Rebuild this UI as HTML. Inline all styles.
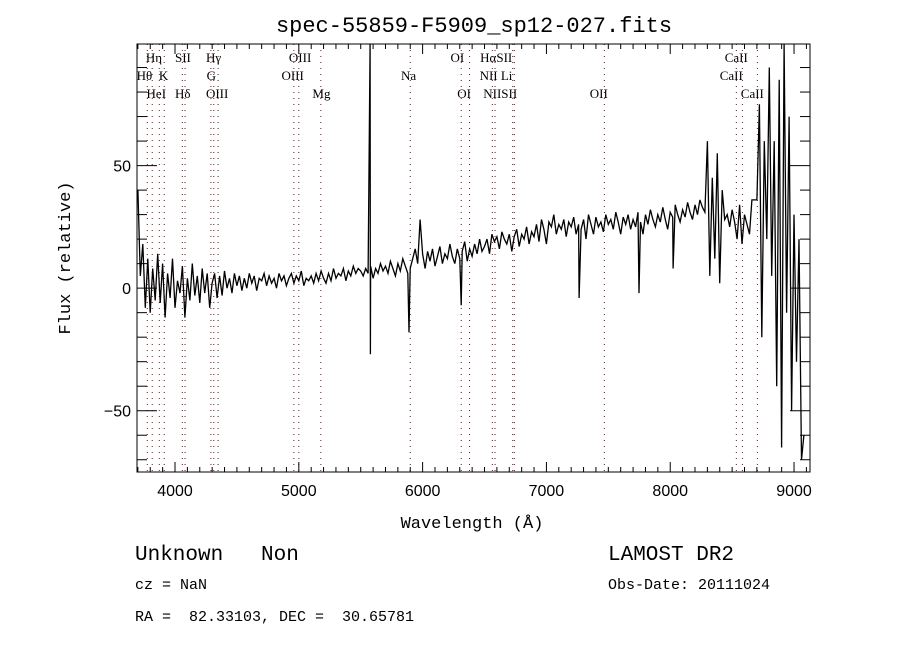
<!DOCTYPE html>
<html><head><meta charset="utf-8"><style>
body{margin:0;background:#fff;width:900px;height:650px;overflow:hidden}
svg{display:block}
</style></head><body>
<svg id="chart" width="900" height="650" xmlns="http://www.w3.org/2000/svg">
<rect width="900" height="650" fill="#fff"/>
<text x="474" y="32" text-anchor="middle" font-family="Liberation Mono, monospace" font-size="22">spec-55859-F5909_sp12-027.fits</text>
<g id="lines"></g>
<g id="series"></g>
<g id="axes"></g>
<text x="472" y="528" text-anchor="middle" font-family="Liberation Mono, monospace" font-size="17">Wavelength (Å)</text>
<text transform="translate(70,258) rotate(-90)" text-anchor="middle" font-family="Liberation Mono, monospace" font-size="17">Flux (relative)</text>
<text x="135" y="560" font-family="Liberation Mono, monospace" font-size="21" xml:space="preserve">Unknown   Non</text>
<text x="135" y="589" font-family="Liberation Mono, monospace" font-size="15">cz = NaN</text>
<text x="135" y="621" font-family="Liberation Mono, monospace" font-size="15" xml:space="preserve">RA =  82.33103, DEC =  30.65781</text>
<text x="608" y="560" font-family="Liberation Mono, monospace" font-size="21">LAMOST DR2</text>
<text x="608" y="589" font-family="Liberation Mono, monospace" font-size="15">Obs-Date: 20111024</text>
</svg>
<script>
// ---- data ----
const wlStart = 3700;
const wlStep = 20;
const flux = [
40,5,18,-8,12,-10,8,-5,14,-6,
10,-12,6,-4,12,-8,3,-2,9,-12,
4,-5,10,-3,5,-6,8,-2,6,-8,
2,6,-4,5,-3,7,0,4,-2,6,
1,5,-1,4,0,6,2,5,-1,4,
3,6,1,5,2,4,0,6,3,5,
1,4,6,2,5,3,7,1,4,3,
5,2,6,3,7,4,2,6,3,8,
4,6,5,8,3,7,5,9,6,8,
7,5,8,6,9,4,8,6,10,7,
9,6,11,8,5,10,7,12,9,6,
8,12,16,10,28,14,8,15,11,16,
9,13,17,10,14,12,18,13,10,16,
12,15,19,11,16,13,18,14,20,15,
17,20,14,22,19,21,16,23,20,18,
22,15,21,24,17,22,20,25,18,23,
21,26,19,28,24,18,27,25,30,22,
26,24,28,21,27,25,29,22,26,24,
28,20,30,26,22,29,25,27,23,30,
26,28,24,31,27,22,29,26,30,24,
28,25,31,27,22,30,26,32,28,25,
30,27,33,28,24,31,29,34,30,27,
32,29,35,31,28,34,30,36,33,31,
60,5,45,12,55,2,40,28,30,25,
32,27,20,34,18,30,26,22,36,36,
36,75,-20,60,20,90,5,60,-40,85,
-65,100,-10,70,-50,30,-30,20,-70,-60];
const featureWl = [5576,5578,5890,6312,7264,7748,8023];
const featureFlux = [100,-27,-18,-7,-4,-2,8];
const xTicks = [4000,5000,6000,7000,8000,9000];
const yTicks = [-50,0,50];
const lineWl = [3776,3816,3873,3913,4059,4081,4290,4313,4348,4960,5000,5178,5900,6312,6379,6563,6585,6728,6741,7468,8534,8583,8704];
const labelText = ["Hη","SII","Hγ","OIII","OI","HαSII","CaII","Hθ","K","G","OIII","Na","NII Li","CaII","HeI","Hδ","OIII","Mg","OI","NIISII","OII","CaII"];
const labelWl = [3765,4000,4250,4920,6225,6465,8440,3690,3870,4255,4860,5825,6460,8400,3770,4000,4250,5110,6280,6490,7350,8570];
const labelRow = [0,0,0,0,0,0,0,1,1,1,1,1,1,1,2,2,2,2,2,2,2,2];

// ---- scales ----
const X0=137,X1=810,Y0=44,Y1=472;
const wMin=3693,wMax=9129,fMin=-75,fMax=99.6;
const xs=w=>X0+(w-wMin)/(wMax-wMin)*(X1-X0);
const ys=f=>Y1-(f-fMin)/(fMax-fMin)*(Y1-Y0);
const NS="http://www.w3.org/2000/svg";
function mk(tag,attrs,parent){const e=document.createElementNS(NS,tag);for(const k in attrs)e.setAttribute(k,attrs[k]);parent.appendChild(e);return e;}
const clip=mk('clipPath',{id:'pc'},document.getElementById('chart'));
mk('rect',{x:X0,y:Y0,width:X1-X0,height:Y1-Y0},clip);

// marker lines
const gl=document.getElementById('lines');
lineWl.forEach(w=>{const l=mk('line',{x1:xs(w),x2:xs(w),y1:Y0,y2:Y1,stroke:'#7a1010','stroke-width':1,'stroke-dasharray':'1,5'},gl);

});
labelText.forEach((t,i)=>{const tx=mk('text',{x:xs(labelWl[i]),y:62+labelRow[i]*18,'font-family':'Liberation Serif, serif','font-size':13},gl);
tx.textContent=t;

});

// series
let pts=flux.map((f,i)=>[wlStart+i*wlStep,f]);
featureWl.forEach((w,i)=>pts.push([w,featureFlux[i]]));
pts.sort((a,b)=>a[0]-b[0]);
const p=mk('polyline',{points:pts.map(q=>xs(q[0]).toFixed(1)+','+ys(q[1]).toFixed(1)).join(' '),fill:'none',stroke:'#000','stroke-width':1.3,'clip-path':'url(#pc)'},document.getElementById('series'));



// axes
const ga=document.getElementById('axes');
const fr=mk('rect',{x:X0,y:Y0,width:X1-X0,height:Y1-Y0,fill:'none',stroke:'#000','stroke-width':1},ga);


for(let w=3700;w<=9100;w+=100){const x=xs(w);const major=w%1000===0;const L=major?10:5;
mk('line',{x1:x,x2:x,y1:Y1,y2:Y1-L,stroke:'#000'},ga);mk('line',{x1:x,x2:x,y1:Y0,y2:Y0+L,stroke:'#000'},ga);}
for(let f=-70;f<=90;f+=10){const y=ys(f);const L=f%50===0?20:10;
mk('line',{x1:X0,x2:X0+L,y1:y,y2:y,stroke:'#000'},ga);mk('line',{x1:X1,x2:X1-L,y1:y,y2:y,stroke:'#000'},ga);}
xTicks.forEach(w=>{const t=mk('text',{x:xs(w),y:Y1+24,'text-anchor':'middle','font-family':'Liberation Sans, sans-serif','font-size':16},ga);
t.textContent=w;

});
yTicks.forEach(f=>{const t=mk('text',{x:X0-6,y:ys(f)+6,'text-anchor':'end','font-family':'Liberation Sans, sans-serif','font-size':16},ga);
t.textContent=f<0?'\u2212'+(-f):f;

});
</script>
</body></html>
